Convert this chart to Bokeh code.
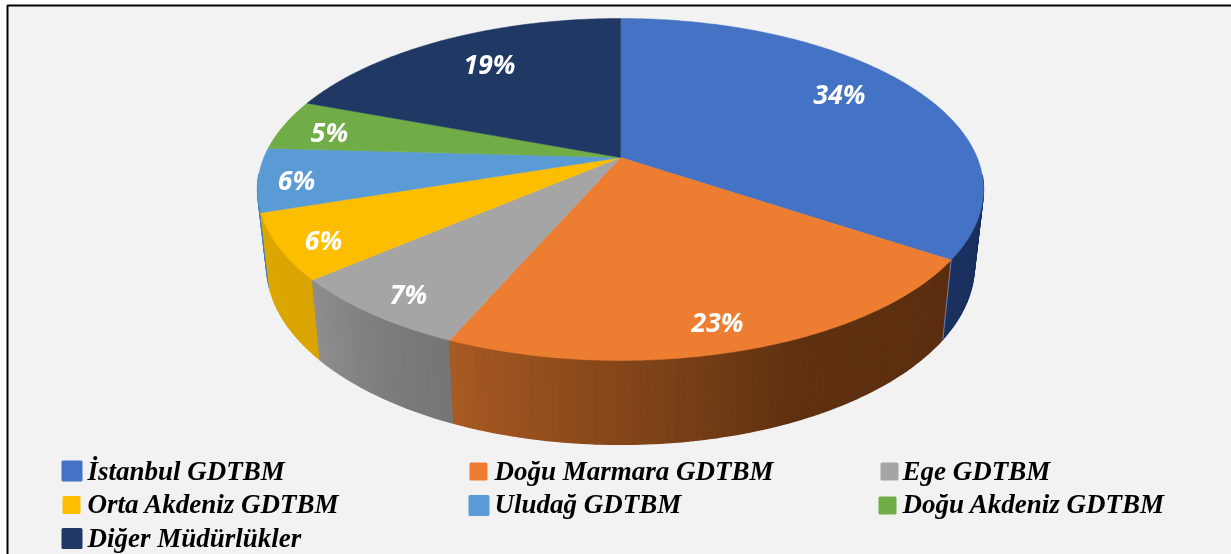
import numpy as np
from bokeh.plotting import figure
from bokeh.embed import file_html
from bokeh.resources import INLINE
from bokeh.core.properties import value

categories = ["İstanbul GDTBM", "Doğu Marmara GDTBM", "Ege GDTBM", "Orta Akdeniz GDTBM",
              "Uludağ GDTBM", "Doğu Akdeniz GDTBM", "Diğer Müdürlükler"]
shares = [34.4, 22.1, 7.2, 6.2, 6.0, 4.8, 19.3]
labels = ["34%", "23%", "7%", "6%", "6%", "5%", "19%"]

top_colors = ["#4472c4", "#ed7d31", "#a5a5a5", "#fdbe00", "#5b9bd5", "#70ad47", "#1f3864"]
wall_stops = [["#172c54", "#172c54", "#1b3160"],
              ["#5a2e0f", "#5f3110", "#a85a22"],
              ["#757575", "#7c7c7c", "#8e8e8e"],
              ["#d9a400", "#dba600", "#dca700"],
              ["#4a80bd", "#4a80bd", "#4a80bd"],
              ["#4f7a32", "#4f7a32", "#4f7a32"],
              ["#16284a", "#16284a", "#16284a"]]

# layout (screen-like coordinates, y downward)
W, H = 1231, 554
APEX_X, APEX_Y = 620.0, 157.0
K, SCALE_Y, SCALE_X = 0.187, 165.0, 356.6
label_x = [839, 717, 408, 323, 296, 329, 489]
label_y = [93, 321, 293, 239, 179, 131, 63]
key_x = [71.5, 478, 889, 71, 478.5, 887, 71.5]
key_y = [470.5, 471, 471, 504.5, 505, 505, 538]
key_size = [18, 15, 15, 15, 18, 15, 18]
text_x = [87, 494, 902, 87, 494, 902, 87]
text_y = [470, 470, 470, 503, 503, 503, 537]


def project(a):
    u, v = np.sin(a), np.cos(a)
    d = 1 + K * v
    return APEX_X + SCALE_X * u / d, APEX_Y - SCALE_Y * v / d


def drop(x, y):
    return APEX_X + 0.975 * (x - APEX_X), 1.048 * y + 66.7


def hex2rgb(c):
    return np.array([int(c[i:i + 2], 16) for i in (1, 3, 5)], float)


def mix(stops, s):
    rgb = [np.interp(s, [0, .4, 1], [hex2rgb(c)[i] for c in stops]) for i in range(3)]
    return "#%02x%02x%02x" % tuple(int(round(v)) for v in rgb)


p = figure(width=W, height=H, x_range=(0, W), y_range=(H, 0), toolbar_location=None,
           output_backend="svg", min_border=0, outline_line_color=None,
           background_fill_color="white", border_fill_color="white")
p.axis.visible = False
p.grid.visible = False
p.styles = {"position": "fixed", "left": "0px", "top": "0px"}

p.quad(left=[7], right=[W], top=[5], bottom=[H], fill_color="#f2f2f2", line_color=None)
p.line([7, 7, W], [H, 5, 5], line_color="black", line_width=2)

edges = np.cumsum([0] + shares) / sum(shares) * 2 * np.pi
segs = []
for i in range(len(shares)):
    a0, a1 = edges[i], edges[i + 1]
    n = max(6, int((a1 - a0) * 60))
    t = np.linspace(a0, a1, n + 1)
    x, y = project(t)
    xb, yb = drop(x, y)
    for j in range(n):
        s = (j + .5) / n
        c = np.cos((t[j] + t[j + 1]) / 2)
        if c < -0.1:
            segs.append((c, [x[j], x[j + 1], xb[j + 1], xb[j]],
                         [y[j], y[j + 1], yb[j + 1], yb[j]],
                         mix(wall_stops[i], s)))
segs.sort(key=lambda r: -r[0])
p.patches([r[1] for r in segs], [r[2] for r in segs], fill_color=[r[3] for r in segs],
          line_color=[r[3] for r in segs], line_width=1.3)

# thin light edge where the first slice's wall meets the second's
ex, ey = project(edges[1])
exb, eyb = drop(ex, ey)
p.line([ex, exb], [ey, eyb], line_color="#5f83bd", line_width=1)

xs, ys = [], []
for i in range(len(shares)):
    t = np.linspace(edges[i], edges[i + 1], max(8, int((edges[i + 1] - edges[i]) * 80)))
    x, y = project(t)
    xs.append(np.r_[APEX_X, x])
    ys.append(np.r_[APEX_Y, y])
p.patches(xs, ys, fill_color=top_colors, line_color=top_colors, line_width=0.5)

p.text(label_x, label_y, text=labels, text_color="white", text_font=value("Open Sans"),
       text_font_style="bold italic", text_font_size="26.5px", text_align="center",
       text_baseline="middle")

p.scatter(key_x, key_y, marker="square", size=key_size, fill_color=top_colors,
          line_color=top_colors, line_width=3, line_join="round")
p.text(text_x, text_y, text=categories, text_color="black", text_font=value("Liberation Serif"),
       text_font_style="bold italic", text_font_size="27px", text_align="left",
       text_baseline="middle")

open("out.html", "w").write(file_html(p, INLINE))
